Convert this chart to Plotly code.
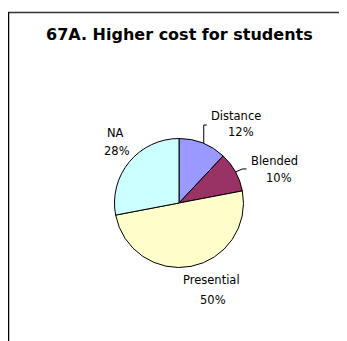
import math
import plotly.graph_objects as go

# ---- data ----
categories = ["Distance", "Blended", "Presential", "NA"]
values = [12, 10, 50, 28]
colors = ["#9999FF", "#993366", "#FFFFCC", "#CCFFFF"]
title_text = "67A. Higher cost for students"

OFF = 8                      # page body margin
W, H = 347 - OFF, 341 - OFF  # figure size
CX, CY, R = 179, 203, 64.5   # pie centre / radius in page pixels


def px(x):
    return (x - OFF) / W


def py(y):
    return 1 - (y - OFF) / H


fig = go.Figure(
    go.Pie(
        labels=categories,
        values=values,
        sort=False,
        direction="clockwise",
        rotation=0,
        marker=dict(colors=colors, line=dict(color="black", width=1)),
        textinfo="none",
        hoverinfo="label+percent",
        showlegend=False,
        domain=dict(x=[px(CX - R), px(CX + R)], y=[py(CY + R), py(CY - R)]),
    )
)

# label positions (page-pixel centres of name line / percentage line)
label_pos = {
    "Distance": ((236, 116), (241, 132.5)),
    "Blended": ((274, 160.5), (279, 178.5)),
    "Presential": ((211, 279.5), (213, 299.5)),
    "NA": ((115, 133), (116.5, 150.5)),
}

total = sum(values)
annotations = [
    dict(
        text=f"<b>{title_text}</b>",
        x=px(179.5), y=py(34), xref="paper", yref="paper",
        showarrow=False, xanchor="center", yanchor="middle",
        font=dict(family="DejaVu Sans", size=16, color="black"),
    )
]
for cat, v in zip(categories, values):
    (nx, ny), (vx, vy) = label_pos[cat]
    pct = round(100 * v / total)
    annotations.append(dict(text=cat, x=px(nx), y=py(ny), xref="paper", yref="paper",
                            showarrow=False, xanchor="center", yanchor="middle",
                            font=dict(family="DejaVu Sans", size=11.5, color="black")))
    annotations.append(dict(text=f"{pct}%", x=px(vx), y=py(vy), xref="paper", yref="paper",
                            showarrow=False, xanchor="center", yanchor="middle",
                            font=dict(family="DejaVu Sans", size=11.5, color="black")))

# leader lines for the two small slices, computed from slice mid-angles
shapes = []
cum = 0
mids = {}
for cat, v in zip(categories, values):
    mids[cat] = (cum + v / 2) / total * 2 * math.pi
    cum += v

a = mids["Distance"]
sx, sy = CX + R * math.sin(a) + 1, CY - R * math.cos(a)
shapes.append(dict(type="line", xref="paper", yref="paper",
                   x0=px(sx), y0=py(sy), x1=px(sx), y1=py(sy - 18),
                   line=dict(color="black", width=1)))
shapes.append(dict(type="line", xref="paper", yref="paper",
                   x0=px(sx), y0=py(sy - 18), x1=px(sx + 3), y1=py(sy - 18),
                   line=dict(color="black", width=1)))

a = mids["Blended"]
sx, sy = CX + R * math.sin(a), CY - R * math.cos(a)
shapes.append(dict(type="line", xref="paper", yref="paper",
                   x0=px(sx), y0=py(sy), x1=px(sx + 7), y1=py(sy - 3),
                   line=dict(color="black", width=1)))
shapes.append(dict(type="line", xref="paper", yref="paper",
                   x0=px(sx + 7), y0=py(sy - 3), x1=px(sx + 11), y1=py(sy - 3),
                   line=dict(color="black", width=1)))

# chart frame (top and left edges visible)
shapes.append(dict(type="line", xref="paper", yref="paper",
                   x0=px(8), y0=py(12.5), x1=px(347), y1=py(12.5),
                   line=dict(color="#333333", width=1.5)))
shapes.append(dict(type="line", xref="paper", yref="paper",
                   x0=px(8.5), y0=py(12.5), x1=px(8.5), y1=py(341),
                   line=dict(color="black", width=1.5)))

fig.update_layout(
    width=W, height=H,
    margin=dict(l=0, r=0, t=0, b=0),
    paper_bgcolor="white", plot_bgcolor="white",
    annotations=annotations,
    shapes=shapes,
)

fig.write_html("out.html")
